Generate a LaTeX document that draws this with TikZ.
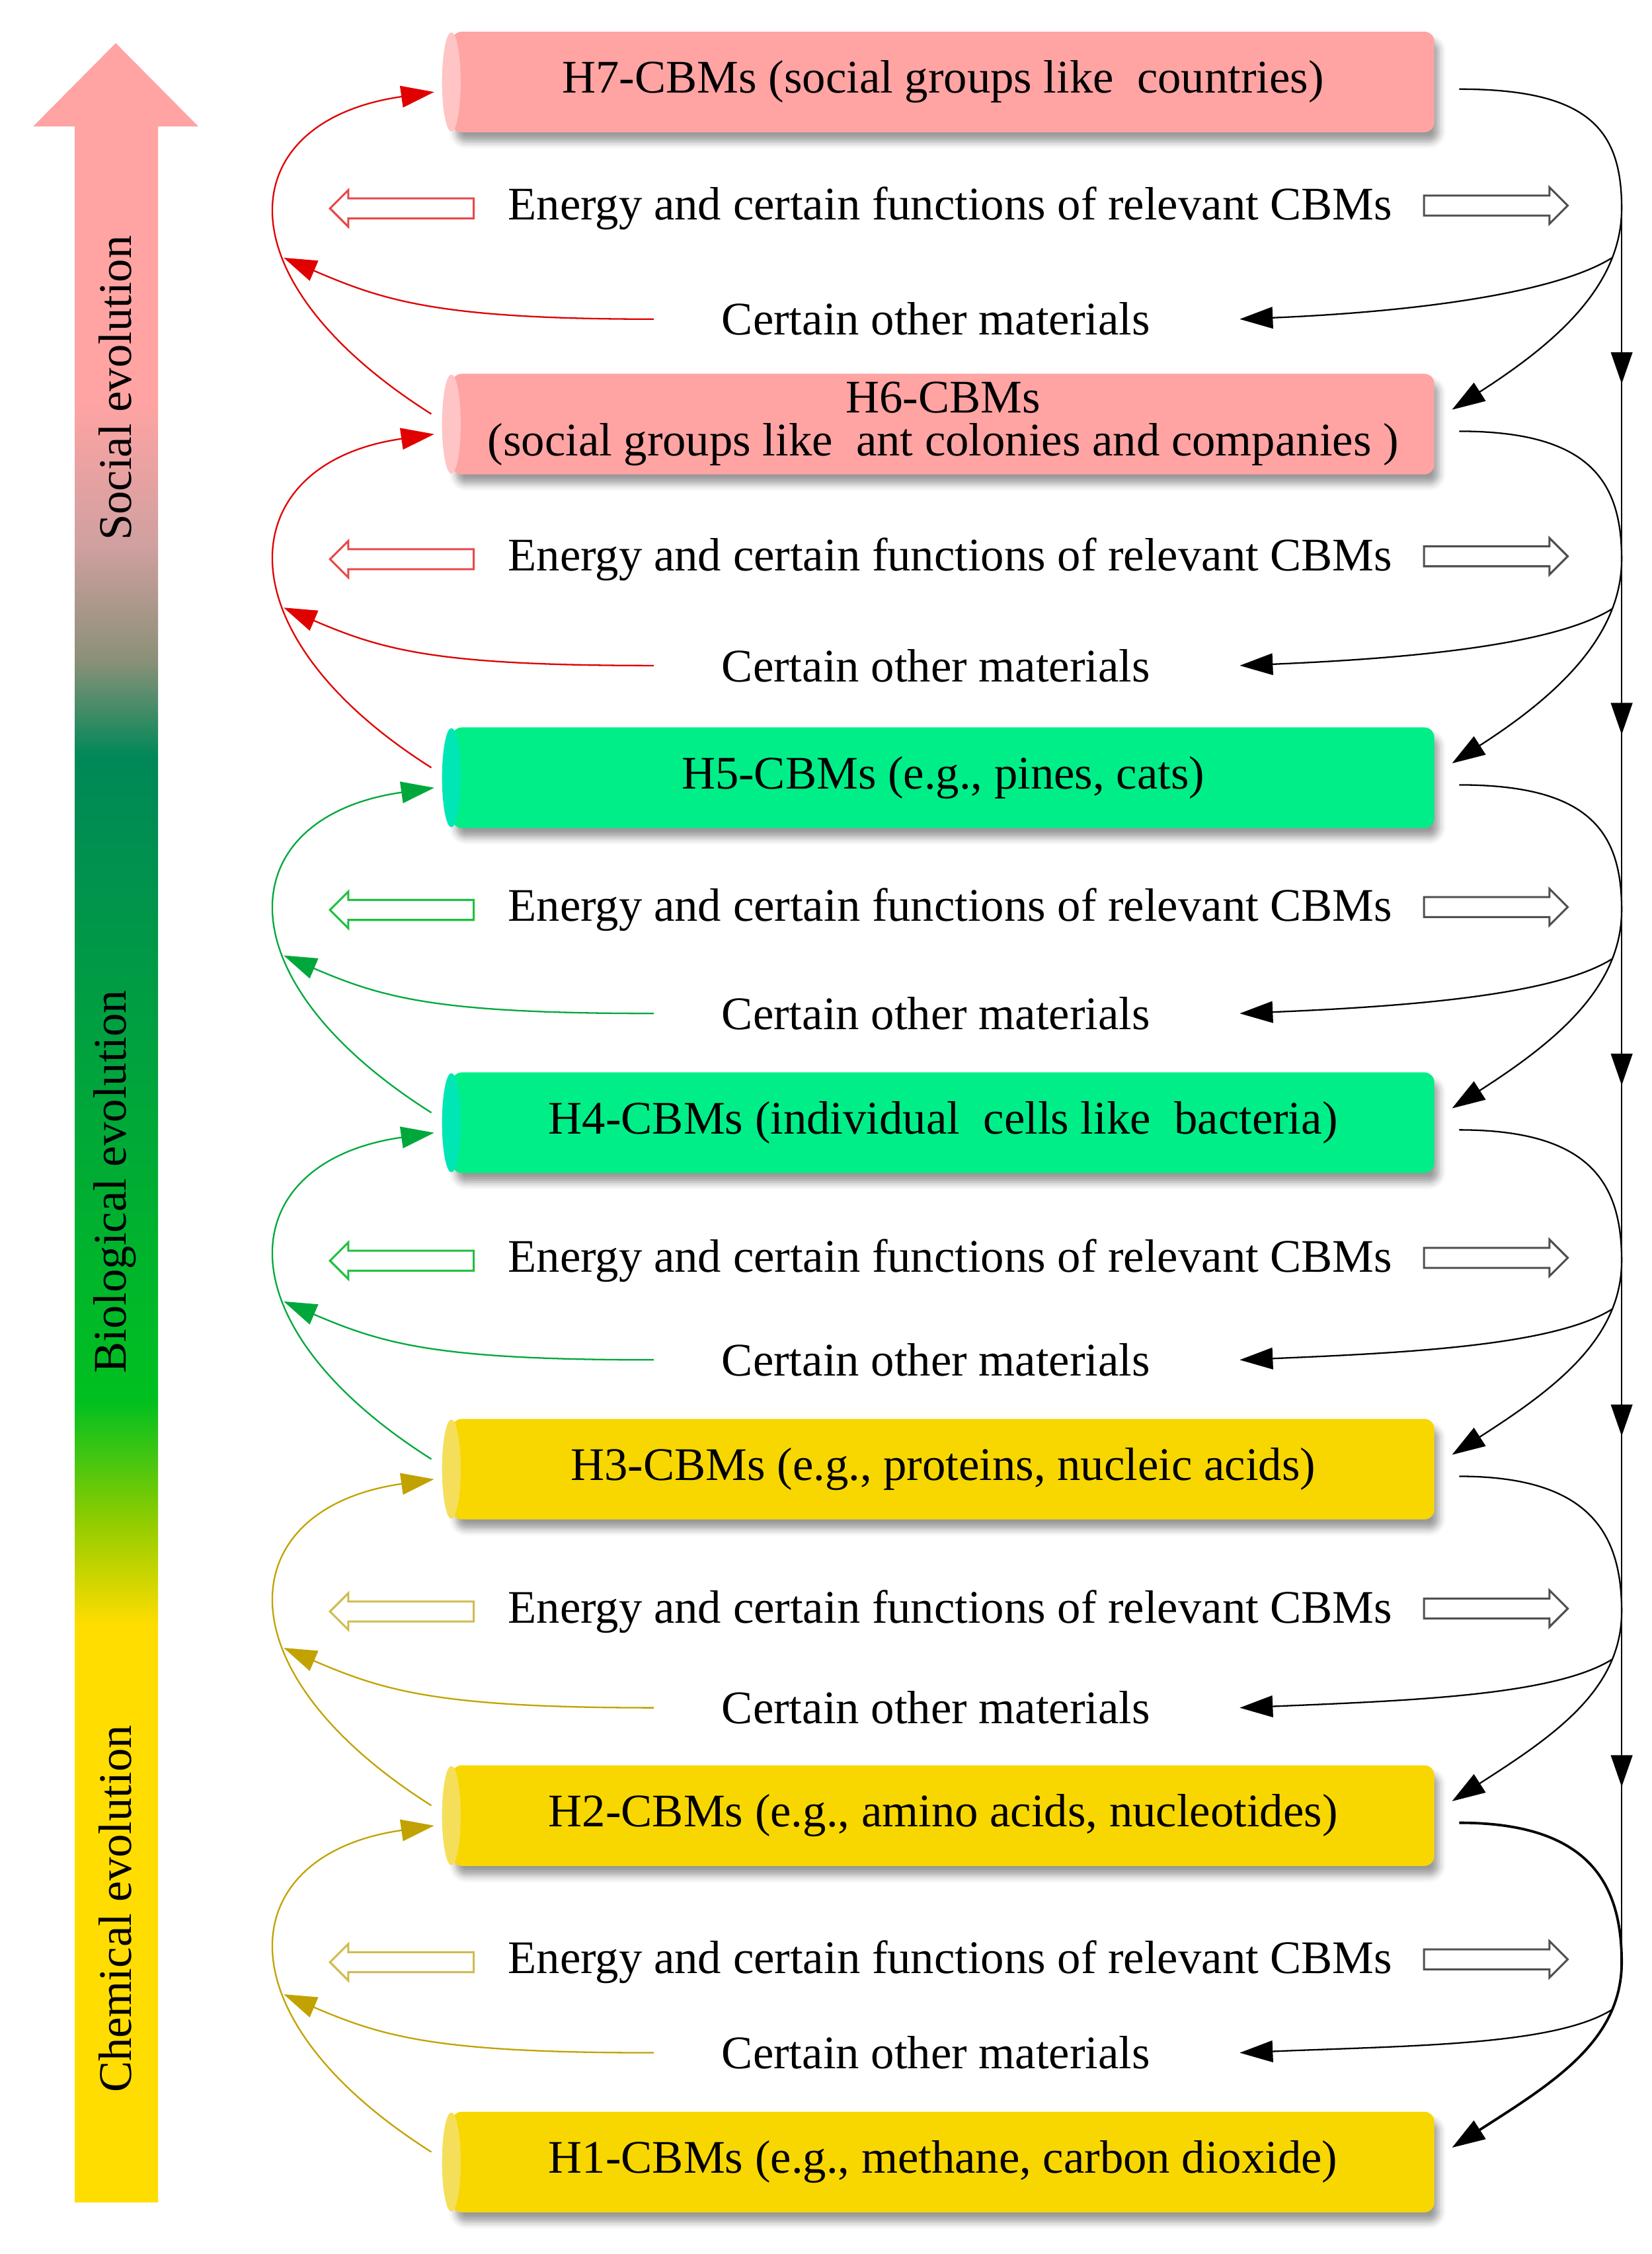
\documentclass[tikz,border=0pt]{standalone}
\usepackage{fontspec}
\setmainfont{Liberation Serif}
\usepackage{tikz}
\usetikzlibrary{shapes.arrows,shadows.blur,arrows.meta,decorations.markings}

\definecolor{boxred}{HTML}{FFA3A3}
\definecolor{capred}{HTML}{FFC4C4}
\definecolor{boxgreen}{HTML}{00EE88}
\definecolor{capgreen}{HTML}{00E6B4}
\definecolor{boxyellow}{HTML}{F8D700}
\definecolor{capyellow}{HTML}{F5DE5A}
\definecolor{linered}{HTML}{E00000}
\definecolor{linegreen}{HTML}{00A83C}
\definecolor{lineolive}{HTML}{C2A200}
\definecolor{hollowred}{HTML}{E84848}
\definecolor{hollowgreen}{HTML}{20C040}
\definecolor{hollowolive}{HTML}{D0BC50}
\definecolor{hollowgray}{HTML}{505050}
\definecolor{evopink}{HTML}{FFA3A3}
\definecolor{evogray}{HTML}{8A9078}
\definecolor{evorose}{HTML}{D0A0A0}
\definecolor{evodark}{HTML}{008858}
\definecolor{evobright}{HTML}{00C020}
\definecolor{evolime}{HTML}{90CC00}
\definecolor{evoyellow}{HTML}{FFDD00}

\pgfdeclareverticalshading{evolution}{100bp}{color(0bp)=(evoyellow); color(38.9bp)=(evoyellow); color(41.4bp)=(evolime); color(44.3bp)=(evobright); color(59.8bp)=(evodark); color(62.1bp)=(evogray); color(64.9bp)=(evorose); color(68.3bp)=(evopink); color(100bp)=(evopink)}

\tikzset{
    cbm-box/.style = {rectangle, rounded corners=0.14cm, minimum width=13.67cm, minimum height=1.4cm, inner sep=0pt, align=center, font=\fontsize{18.5}{17}\selectfont, blur shadow={shadow xshift=0.06cm, shadow yshift=-0.13cm, shadow blur radius=0.1cm, shadow opacity=40}},
    cbm-red/.style = {cbm-box, fill=boxred},
    cbm-green/.style = {cbm-box, fill=boxgreen},
    cbm-yellow/.style = {cbm-box, fill=boxyellow},
    endcap/.style = {x radius=0.13cm, y radius=0.69cm},
    flow-text/.style = {font=\fontsize{18.5}{22}\selectfont, inner sep=0pt},
    material-text/.style = {flow-text, minimum width=8.14cm},
    hollow/.style = {single arrow, draw=hollowgray, fill=white, line width=0.8pt, minimum height=2cm, minimum width=0.48cm, text height=0.25cm, text depth=0pt, single arrow head extend=0.115cm, inner sep=0pt},
    hollow-left/.style = {hollow, shape border rotate=180, draw=#1},
    link/.style = {line width=0.6pt},
    headed/.style = {-{Triangle[length=0.46cm, width=0.3cm]}},
    midtip/.style = {postaction={decorate}, decoration={markings, mark=at position 0.5 with {\arrow{Triangle[length=0.44cm, width=0.3cm]}}}},
}

\begin{document}
\begin{tikzpicture}[x=0.02cm, y=-0.02cm]
\useasboundingbox (0,0) rectangle (1149,1568);

% evolution arrow
\shade[shading=evolution] (52,87) rectangle (110,1532);
\fill[evopink] (23,88) -- (80.5,30) -- (138,88) -- cycle;
\node[flow-text, rotate=90] (social) at (80,270) {Social evolution};
\node[flow-text, rotate=90] (biological) at (80,822) {Biological evolution};
\node[flow-text, rotate=90] (chemical) at (80,1328) {Chemical evolution};

% CBM levels
\node[cbm-red] (h7) at (656,57) {H7-CBMs (social groups like\ \ countries)};
\node[cbm-red] (h6) at (656,295) {H6-CBMs\\(social groups like\ \ ant colonies and companies )};
\node[cbm-green] (h5) at (656,541) {H5-CBMs (e.g., pines, cats)};
\node[cbm-green] (h4) at (656,781) {H4-CBMs (individual\ \ cells like\ \ bacteria)};
\node[cbm-yellow] (h3) at (656,1022) {H3-CBMs (e.g., proteins, nucleic acids)};
\node[cbm-yellow] (h2) at (656,1263) {H2-CBMs (e.g., amino acids, nucleotides)};
\node[cbm-yellow] (h1) at (656,1504) {H1-CBMs (e.g., methane, carbon dioxide)};
\fill[capred] (h7.west) ellipse [endcap];
\fill[capred] (h6.west) ellipse [endcap];
\fill[capgreen] (h5.west) ellipse [endcap];
\fill[capgreen] (h4.west) ellipse [endcap];
\fill[capyellow] (h3.west) ellipse [endcap];
\fill[capyellow] (h2.west) ellipse [endcap];
\fill[capyellow] (h1.west) ellipse [endcap];

% energy rows
\node[flow-text] (en76) at (661,145) {Energy and certain functions of relevant CBMs};
\node[flow-text] (en65) at (661,389) {Energy and certain functions of relevant CBMs};
\node[flow-text] (en54) at (661,633) {Energy and certain functions of relevant CBMs};
\node[flow-text] (en43) at (661,877) {Energy and certain functions of relevant CBMs};
\node[flow-text] (en32) at (661,1121) {Energy and certain functions of relevant CBMs};
\node[flow-text] (en21) at (661,1365) {Energy and certain functions of relevant CBMs};

\node[hollow-left=hollowred] (inl76) at (283,145) {};
\node[hollow-left=hollowred] (inl65) at (283,389) {};
\node[hollow-left=hollowgreen] (inl54) at (283,633) {};
\node[hollow-left=hollowgreen] (inl43) at (283,877) {};
\node[hollow-left=hollowolive] (inl32) at (283,1121) {};
\node[hollow-left=hollowolive] (inl21) at (283,1365) {};
\node[hollow] (outr76) at (1037,143) {};
\node[hollow] (outr65) at (1037,387) {};
\node[hollow] (outr54) at (1037,631) {};
\node[hollow] (outr43) at (1037,875) {};
\node[hollow] (outr32) at (1037,1119) {};
\node[hollow] (outr21) at (1037,1363) {};

% material rows
\node[material-text] (mat76) at (651,222) {Certain other materials};
\node[material-text] (mat65) at (651,463) {Certain other materials};
\node[material-text] (mat54) at (651,705) {Certain other materials};
\node[material-text] (mat43) at (651,946) {Certain other materials};
\node[material-text] (mat32) at (651,1188) {Certain other materials};
\node[material-text] (mat21) at (651,1428) {Certain other materials};

% right side: downward flow
\coordinate (v76) at (1128,145);
\coordinate (v65) at (1128,389);
\coordinate (v54) at (1128,633);
\coordinate (v43) at (1128,877);
\coordinate (v32) at (1128,1121);
\coordinate (v21) at (1128,1365);
\draw[link, midtip] (v76) -- (v65);
\draw[link, midtip] (v65) -- (v54);
\draw[link, midtip] (v54) -- (v43);
\draw[link, midtip] (v43) -- (v32);
\draw[link, midtip] (v32) -- (v21);

\draw[link, headed] ([shift={(359,5)}]h7.center) .. controls +(90,0) and +(0,-55) .. (v76) .. controls +(0,55) and +(70,-45) .. ([shift={(354,-10)}]h6.center) coordinate[pos=0.22] (r76);
\draw[link, headed] ([shift={(359,5)}]h6.center) .. controls +(90,0) and +(0,-55) .. (v65) .. controls +(0,55) and +(70,-45) .. ([shift={(354,-10)}]h5.center) coordinate[pos=0.22] (r65);
\draw[link, headed] ([shift={(359,5)}]h5.center) .. controls +(90,0) and +(0,-55) .. (v54) .. controls +(0,55) and +(70,-45) .. ([shift={(354,-10)}]h4.center) coordinate[pos=0.22] (r54);
\draw[link, headed] ([shift={(359,5)}]h4.center) .. controls +(90,0) and +(0,-55) .. (v43) .. controls +(0,55) and +(70,-45) .. ([shift={(354,-10)}]h3.center) coordinate[pos=0.22] (r43);
\draw[link, headed] ([shift={(359,5)}]h3.center) .. controls +(90,0) and +(0,-55) .. (v32) .. controls +(0,55) and +(70,-45) .. ([shift={(354,-10)}]h2.center) coordinate[pos=0.22] (r32);
\draw[link, headed, line width=1pt] ([shift={(359,5)}]h2.center) .. controls +(90,0) and +(0,-55) .. (v21) .. controls +(0,55) and +(70,-45) .. ([shift={(354,-10)}]h1.center) coordinate[pos=0.22] (r21);

\draw[link, headed] (r76) .. controls +(-40,25) and +(120,-5) .. ([xshift=0.15cm]mat76.east);
\draw[link, headed] (r65) .. controls +(-40,25) and +(120,-5) .. ([xshift=0.15cm]mat65.east);
\draw[link, headed] (r54) .. controls +(-40,25) and +(120,-5) .. ([xshift=0.15cm]mat54.east);
\draw[link, headed] (r43) .. controls +(-40,25) and +(120,-5) .. ([xshift=0.15cm]mat43.east);
\draw[link, headed] (r32) .. controls +(-40,25) and +(120,-5) .. ([xshift=0.15cm]mat32.east);
\draw[link, headed] (r21) .. controls +(-40,25) and +(120,-5) .. ([xshift=0.15cm]mat21.east);

% left side: upward flow
\draw[link, headed, linered] ([shift={(-356,-7)}]h6.center) .. controls +(-150,-95) and +(-140,20) .. ([shift={(-354,7)}]h7.center) coordinate[pos=0.38] (l76);
\draw[link, headed, linered] ([shift={(-356,-7)}]h5.center) .. controls +(-150,-95) and +(-140,20) .. ([shift={(-354,7)}]h6.center) coordinate[pos=0.38] (l65);
\draw[link, headed, linegreen] ([shift={(-356,-7)}]h4.center) .. controls +(-150,-95) and +(-140,20) .. ([shift={(-354,7)}]h5.center) coordinate[pos=0.38] (l54);
\draw[link, headed, linegreen] ([shift={(-356,-7)}]h3.center) .. controls +(-150,-95) and +(-140,20) .. ([shift={(-354,7)}]h4.center) coordinate[pos=0.38] (l43);
\draw[link, headed, lineolive] ([shift={(-356,-7)}]h2.center) .. controls +(-150,-95) and +(-140,20) .. ([shift={(-354,7)}]h3.center) coordinate[pos=0.38] (l32);
\draw[link, headed, lineolive] ([shift={(-356,-7)}]h1.center) .. controls +(-150,-95) and +(-140,20) .. ([shift={(-354,7)}]h2.center) coordinate[pos=0.38] (l21);

\draw[link, headed, linered] ([xshift=0.15cm]mat76.west) .. controls +(-150,0) and +(70,30) .. (l76);
\draw[link, headed, linered] ([xshift=0.15cm]mat65.west) .. controls +(-150,0) and +(70,30) .. (l65);
\draw[link, headed, linegreen] ([xshift=0.15cm]mat54.west) .. controls +(-150,0) and +(70,30) .. (l54);
\draw[link, headed, linegreen] ([xshift=0.15cm]mat43.west) .. controls +(-150,0) and +(70,30) .. (l43);
\draw[link, headed, lineolive] ([xshift=0.15cm]mat32.west) .. controls +(-150,0) and +(70,30) .. (l32);
\draw[link, headed, lineolive] ([xshift=0.15cm]mat21.west) .. controls +(-150,0) and +(70,30) .. (l21);
\end{tikzpicture}
\end{document}
